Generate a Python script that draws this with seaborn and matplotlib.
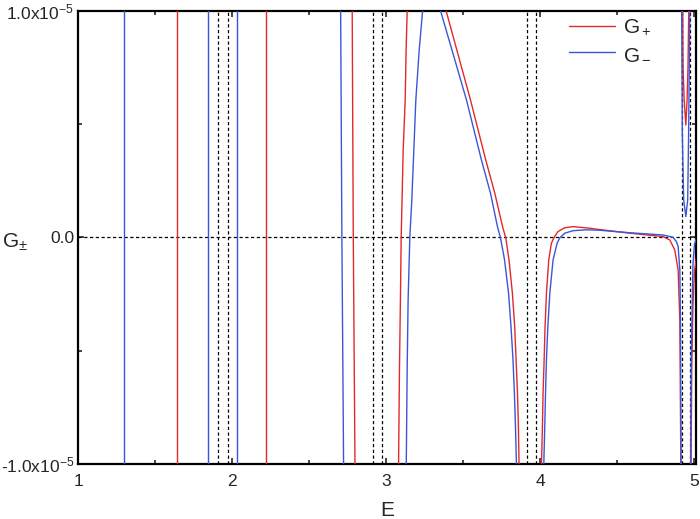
import numpy as np
import pandas as pd
import matplotlib
matplotlib.use("Agg")
import matplotlib.pyplot as plt
from matplotlib.ticker import FixedLocator, FixedFormatter, MultipleLocator
from matplotlib.lines import Line2D
import seaborn as sns

# ---------------- data (G in units of 1e-5) ----------------
# G+ (red)
gp_vertical_E = [1.638, 2.218]
gp_b1_E = [2.775, 2.778, 2.785, 2.796, 2.799]
gp_b1_G = [1.3, 1.0, 0.0, -1.0, -1.3]
gp_b2_E = [3.077, 3.079, 3.085, 3.091, 3.096, 3.109, 3.122, 3.128, 3.135, 3.17, 3.22,
           3.28, 3.34, 3.388, 3.546, 3.645, 3.704, 3.754, 3.775, 3.796,
           3.818, 3.833, 3.842, 3.851, 3.857, 3.861, 3.863]
gp_b2_G = [-1.3, -1.0, -0.57, -0.276, 0.0, 0.386, 0.607, 0.828, 1.0, 1.25, 1.35,
           1.3, 1.15, 1.0, 0.607, 0.342, 0.195, 0.048, -0.002, -0.099,
           -0.246, -0.394, -0.541, -0.688, -0.835, -0.997, -1.3]
gp_b3_E = [4.005, 4.007, 4.013, 4.017, 4.024, 4.030, 4.039, 4.054, 4.071, 4.088,
           4.114, 4.157, 4.212, 4.320, 4.385, 4.580, 4.796, 4.840, 4.872, 4.894,
           4.905, 4.911, 4.912]
gp_b3_G = [-1.3, -0.997, -0.835, -0.688, -0.541, -0.394, -0.246, -0.099, -0.026, 0.0,
           0.026, 0.043, 0.048, 0.041, 0.035, 0.019, 0.004, -0.011, -0.055, -0.143,
           -0.364, -0.95, -1.3]
gp_b4_E = [4.922, 4.924, 4.926, 4.933, 4.944, 4.952, 4.958, 4.963, 4.965]
gp_b4_G = [1.3, 1.0, 0.754, 0.607, 0.497, 0.607, 0.754, 1.0, 1.3]
gp_b5_E = [4.976, 4.978, 4.982, 4.990, 5.000, 5.015]
gp_b5_G = [-1.3, -1.0, -0.6, -0.3, -0.15, -0.08]

# G- (blue)
gm_vertical_E = [1.295, 1.844, 2.030]
gm_b1_E = [2.700, 2.703, 2.711, 2.722, 2.725]
gm_b1_G = [1.3, 1.0, 0.0, -1.0, -1.3]
gm_b2_E = [3.127, 3.129, 3.135, 3.141, 3.152, 3.165, 3.178, 3.191, 3.213, 3.235,
           3.26, 3.29, 3.32, 3.352, 3.520, 3.617, 3.676, 3.721, 3.741,
           3.767, 3.793, 3.809, 3.822, 3.831, 3.838, 3.844, 3.846]
gm_b2_G = [-1.3, -1.0, -0.57, -0.276, 0.0, 0.166, 0.386, 0.607, 0.828, 1.0,
           1.04, 1.05, 1.04, 1.0, 0.607, 0.342, 0.195, 0.048, -0.002,
           -0.099, -0.246, -0.394, -0.541, -0.688, -0.835, -0.997, -1.3]
gm_b3_E = [4.020, 4.022, 4.028, 4.033, 4.039, 4.048, 4.061, 4.082, 4.108, 4.125,
           4.158, 4.212, 4.299, 4.385, 4.580, 4.796, 4.861, 4.883, 4.894, 4.905,
           4.909, 4.913, 4.914]
gm_b3_G = [-1.3, -0.997, -0.835, -0.688, -0.541, -0.394, -0.246, -0.099, -0.026, -0.002,
           0.019, 0.030, 0.034, 0.032, 0.021, 0.011, 0.001, -0.019, -0.04, -0.143,
           -0.364, -0.95, -1.3]
gm_b4_E = [4.916, 4.917, 4.921, 4.930, 4.944, 4.956, 4.962, 4.970, 4.971]
gm_b4_G = [1.3, 1.0, 0.46, 0.166, 0.092, 0.166, 0.46, 1.0, 1.3]
gm_b5_E = [4.974, 4.975, 4.980, 4.990, 5.000, 5.015]
gm_b5_G = [-1.3, -1.0, -0.5, -0.12, -0.03, 0.0]

# dashed reference lines
band_edges_E = [1.908, 1.970, 2.914, 2.971, 3.916, 3.972, 4.917, 4.974]

x_ticks = [1, 2, 3, 4, 5]
y_ticks = [-1e-5, 0.0, 1e-5]
y_tick_labels = ["-1.0x10$^{-5}$", "0.0", "1.0x10$^{-5}$"]

# ---------------- build long table ----------------
rows = []
seg_id = 0
def add(series, E, G):
    global seg_id
    for e, g in zip(E, G):
        rows.append((series, seg_id, e, g * 1e-5))
    seg_id += 1

for e in gp_vertical_E:
    add("G+", [e, e], [-1.3, 1.3])
for E, G in [(gp_b1_E, gp_b1_G), (gp_b2_E, gp_b2_G), (gp_b3_E, gp_b3_G),
             (gp_b4_E, gp_b4_G), (gp_b5_E, gp_b5_G)]:
    add("G+", E, G)
for e in gm_vertical_E:
    add("G-", [e, e], [-1.3, 1.3])
for E, G in [(gm_b1_E, gm_b1_G), (gm_b2_E, gm_b2_G), (gm_b3_E, gm_b3_G),
             (gm_b4_E, gm_b4_G), (gm_b5_E, gm_b5_G)]:
    add("G-", E, G)

df = pd.DataFrame(rows, columns=["series", "seg", "E", "G"])

# ---------------- style ----------------
sns.set_style("ticks")
plt.rcParams["font.family"] = ["Liberation Sans", "DejaVu Sans"]
plt.rcParams["mathtext.fontset"] = "custom"
plt.rcParams["mathtext.rm"] = "Liberation Sans"
plt.rcParams["mathtext.it"] = "Liberation Sans:italic"
plt.rcParams["mathtext.default"] = "regular"

red = "#e3282d"
blue = "#3a56d8"

fig = plt.figure(figsize=(7.0, 5.19), dpi=100)
ax = fig.add_axes([0.1119, 0.1060, 0.8824, 0.8728])

# dashed guides
dash = (0, (2.6, 2.0))
for e in band_edges_E:
    ax.axvline(e, color="black", lw=0.9, ls=dash, zorder=1)
ax.axhline(0.0, color="black", lw=0.9, ls=dash, zorder=1)

sns.lineplot(data=df, x="E", y="G", hue="series", units="seg", estimator=None,
             sort=False, palette={"G+": red, "G-": blue}, linewidth=1.0,
             legend=False, ax=ax, zorder=3)

ax.set_xlim(1.0, 5.01)
ax.set_ylim(-1e-5, 1e-5)

ax.xaxis.set_major_locator(FixedLocator(x_ticks))
ax.xaxis.set_minor_locator(MultipleLocator(0.5))
ax.set_xticklabels([str(t) for t in x_ticks])
ax.yaxis.set_major_locator(FixedLocator(y_ticks))
ax.yaxis.set_major_formatter(FixedFormatter(y_tick_labels))
ax.yaxis.set_minor_locator(MultipleLocator(0.5e-5))

ax.tick_params(which="both", direction="in", top=True, right=True, width=1.2)
ax.tick_params(which="major", length=4.5, labelsize=12.5)
ax.tick_params(which="minor", length=3)
ax.tick_params(axis="x", which="major", pad=7)
ax.tick_params(axis="y", which="major", pad=3)

for s in ax.spines.values():
    s.set_linewidth(1.6)
    s.set_color("black")

ax.set_xlabel("E", fontsize=15)
ax.xaxis.set_label_coords(0.5, -0.082)
ax.set_ylabel("G$_{\\pm}$", fontsize=15, rotation=0, va="center", ha="center")
ax.yaxis.set_label_coords(-0.102, 0.49)

handles = [Line2D([], [], color=red, lw=1.0), Line2D([], [], color=blue, lw=1.0)]
ax.legend(handles, ["G$_+$", "G$_-$"], loc="upper left",
          bbox_to_anchor=(0.795, 0.985), frameon=False, fontsize=15,
          handlelength=2.2, handletextpad=0.35, labelspacing=0.35,
          borderpad=0.0, borderaxespad=0.0)

fig.savefig("out.png", dpi=100)
